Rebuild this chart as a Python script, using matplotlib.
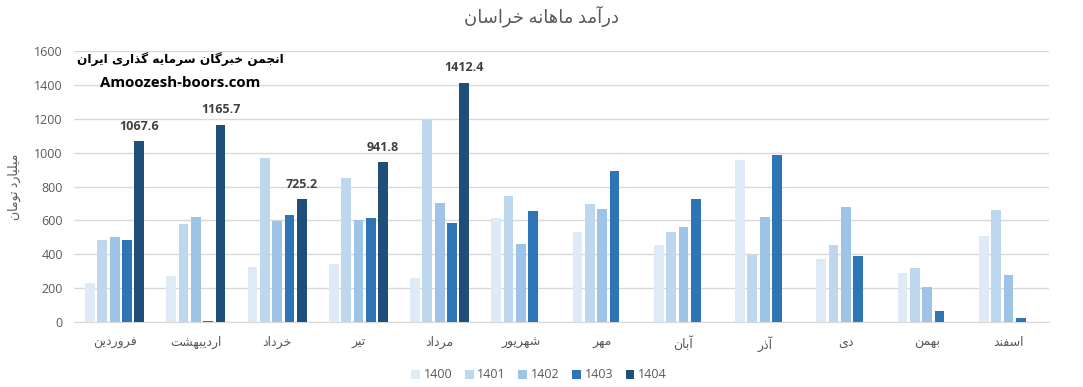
import numpy as np
import matplotlib
matplotlib.use('Agg')
import matplotlib.pyplot as plt

# Data (billion toman)
months = ['فروردین', 'اردیبهشت', 'خرداد', 'تیر', 'مرداد', 'شهریور',
          'مهر', 'آبان', 'آذر', 'دی', 'بهمن', 'اسفند']
years = ['1400', '1401', '1402', '1403', '1404']
y1400 = [231, 272, 325, 343, 260, 613, 531, 454, 954, 372, 290, 507]
y1401 = [484, 578, 966, 848, 1190, 742, 696, 532, 396, 454, 319, 660]
y1402 = [502, 619, 597, 601, 701, 460, 666, 560, 619, 678, 208, 278]
y1403 = [484, 8, 631, 613, 584, 655, 890, 725, 984, 390, 66, 25]
y1404 = [1067.6, 1165.7, 725.2, 941.8, 1412.4, np.nan, np.nan, np.nan, np.nan, np.nan, np.nan, np.nan]
colors = ['#DEEBF7', '#BDD7EE', '#9DC3E6', '#2E75B6', '#1F4E79']

title = 'درآمد ماهانه خراسان'
ylabel = 'میلیارد تومان'
watermark1 = 'انجمن خبرگان سرمایه گذاری ایران'
watermark2 = 'Amoozesh-boors.com'

# Simple Persian shaping: matplotlib has no bidi / joining support
# letter -> (isolated, final, initial, medial); 2-tuple means right-joining only
FORMS = {
    'ا': ('\uFE8D', '\uFE8E'), 'آ': ('\uFE81', '\uFE82'),
    'د': ('\uFEA9', '\uFEAA'), 'ذ': ('\uFEAB', '\uFEAC'),
    'ر': ('\uFEAD', '\uFEAE'), 'ز': ('\uFEAF', '\uFEB0'),
    'و': ('\uFEED', '\uFEEE'),
    'ب': ('\uFE8F', '\uFE90', '\uFE91', '\uFE92'),
    'ت': ('\uFE95', '\uFE96', '\uFE97', '\uFE98'),
    'ج': ('\uFE9D', '\uFE9E', '\uFE9F', '\uFEA0'),
    'خ': ('\uFEA5', '\uFEA6', '\uFEA7', '\uFEA8'),
    'س': ('\uFEB1', '\uFEB2', '\uFEB3', '\uFEB4'),
    'ش': ('\uFEB5', '\uFEB6', '\uFEB7', '\uFEB8'),
    'ف': ('\uFED1', '\uFED2', '\uFED3', '\uFED4'),
    'ل': ('\uFEDD', '\uFEDE', '\uFEDF', '\uFEE0'),
    'م': ('\uFEE1', '\uFEE2', '\uFEE3', '\uFEE4'),
    'ن': ('\uFEE5', '\uFEE6', '\uFEE7', '\uFEE8'),
    'ه': ('\uFEE9', '\uFEEA', '\uFEEB', '\uFEEC'),
    'ی': ('\uFBFC', '\uFBFD', '\uFBFE', '\uFBFF'),
    'گ': ('\uFB92', '\uFB93', '\uFB94', '\uFB95'),
}


def shape(text):
    out = []
    for i, ch in enumerate(text):
        f = FORMS.get(ch)
        if f is None:
            out.append(ch)
            continue
        prev = text[i - 1] if i > 0 else ''
        nxt = text[i + 1] if i + 1 < len(text) else ''
        join_prev = prev in FORMS and len(FORMS[prev]) == 4
        join_next = len(f) == 4 and nxt in FORMS
        if join_prev and join_next:
            out.append(f[3])
        elif join_prev:
            out.append(f[1])
        elif join_next:
            out.append(f[2])
        else:
            out.append(f[0])
    return ''.join(reversed(out))


plt.rcParams['font.family'] = ['Open Sans', 'DejaVu Sans']
gray = '#595959'

fig = plt.figure(figsize=(10.83, 3.87), dpi=100)
ax = fig.add_axes([74 / 1083, 1 - 322 / 387, (1049 - 74) / 1083, (322 - 51) / 387])

x = np.arange(len(months))
series = [y1400, y1401, y1402, y1403, y1404]
step = 0.152
width = 0.12
for i, (vals, c, yr) in enumerate(zip(series, colors, years)):
    bars = ax.bar(x + (i - 2) * step, vals, width=width, color=c, label=yr, zorder=3)
    if yr == '1404':
        for xi, v in zip(x + (i - 2) * step, vals):
            if not np.isnan(v):
                ax.annotate(f'{v:.1f}', (xi, v), xytext=(0, 6), textcoords='offset points',
                            ha='center', va='bottom', fontsize=9, fontweight='bold', color='#404040')

ax.set_xlim(-0.5, 11.5)
ax.set_ylim(0, 1600)
ax.set_yticks(range(0, 1601, 200))
ax.set_xticks(x)
ax.set_xticklabels([shape(m) for m in months], fontsize=9, color=gray)
ax.tick_params(axis='y', labelsize=9, labelcolor=gray, length=0, pad=8)
ax.tick_params(axis='x', length=0, pad=10)
ax.grid(axis='y', color='#D9D9D9', linewidth=1, zorder=0)
for s in ['top', 'right', 'left']:
    ax.spines[s].set_visible(False)
ax.spines['bottom'].set_color('#D9D9D9')

fig.text(0.5, 1 - 16 / 387, shape(title), ha='center', va='center', fontsize=13, color=gray)
fig.text(14 / 1083, 1 - 187 / 387, shape(ylabel), rotation=90, ha='center', va='center',
         fontsize=9, color=gray)
fig.text(180 / 1083, 1 - 59 / 387, shape(watermark1), ha='center', va='center',
         fontsize=8.7, fontweight='bold', color='black', family='DejaVu Sans')
fig.text(180 / 1083, 1 - 83 / 387, watermark2, ha='center', va='center',
         fontsize=10.8, fontweight='bold', color='black')

fig.legend(loc='center', bbox_to_anchor=(539 / 1083, 1 - 375 / 387), ncol=5, frameon=False,
           fontsize=9, labelcolor=gray, handlelength=0.7, handleheight=0.7,
           handletextpad=0.3, columnspacing=1.0)

fig.savefig('out.png', dpi=100)
